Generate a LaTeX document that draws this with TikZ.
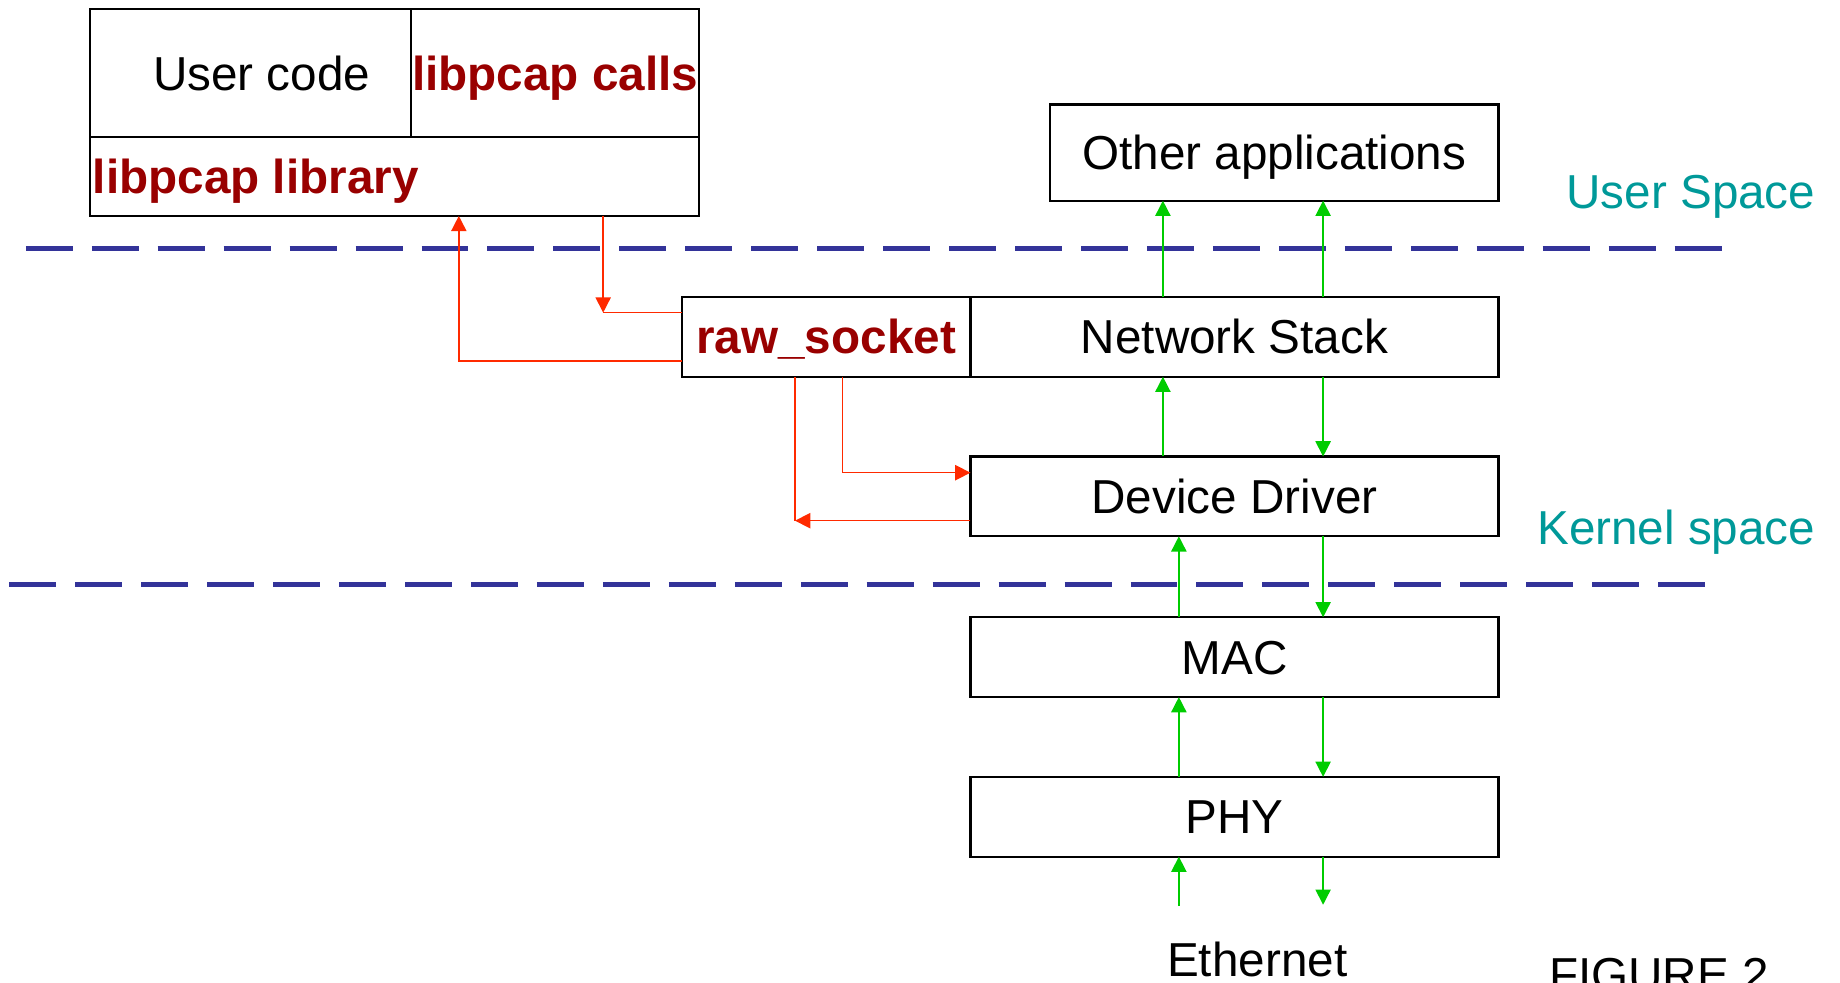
\documentclass[tikz,border=0pt]{standalone}
\usepackage{fontspec}
\setmainfont{Liberation Sans}
\usetikzlibrary{arrows.meta}
\definecolor{darkred}{HTML}{990000}
\definecolor{arrowred}{HTML}{FF2A00}
\definecolor{arrowgreen}{HTML}{00CC00}
\definecolor{dashblue}{HTML}{333399}
\definecolor{spaceteal}{HTML}{009999}
\tikzset{
  txt/.style={font=\fontsize{20.3pt}{24pt}\selectfont, text height=14.5pt, text depth=0pt, inner sep=0pt, outer sep=0pt},
  boxnode/.style={txt, draw=black, line width=0.9pt, minimum width=225pt, minimum height=34pt},
  redtext/.style={text=darkred, font=\fontsize{20.3pt}{24pt}\selectfont\bfseries},
  plaintext/.style={font=\fontsize{20.3pt}{24pt}\selectfont, inner sep=0pt, outer sep=0pt},
  spacetext/.style={plaintext, text=spaceteal},
  tipshape/.tip={Triangle[length=6.5pt,width=6.5pt]},
  gline/.style={draw=arrowgreen, line width=0.65pt},
  garrow/.style={gline, -{tipshape}},
  rline/.style={draw=arrowred, line width=0.65pt},
  rarrow/.style={rline, -{tipshape}},
  sepline/.style={draw=dashblue, line width=2.3pt, dash pattern=on 20pt off 8.1pt},
}
\begin{document}
\begin{tikzpicture}[x=0.5pt,y=-0.5pt]
\useasboundingbox (0,0) rectangle (1568,837);
\clip (0,0) rectangle (1568,837);

% separator lines
\coordinate (d1a) at (22,212);
\coordinate (d1b) at (1468,212);
\coordinate (d2a) at (8,498);
\coordinate (d2b) at (1454.5,498);
\draw[sepline] (d1a) -- (d1b);
\draw[sepline] (d2a) -- (d2b);

% user code block
\node[boxnode, minimum width=136.5pt, minimum height=54.5pt] (ucode) at (213.5,62.5) {};
\node[boxnode, minimum width=123pt, minimum height=54.5pt, redtext] (calls) at (473,62.5) {libpcap calls};
\node[boxnode, minimum width=259.5pt, minimum height=33.5pt] (libbox) at (336.5,150.5) {};
\node[txt] (ucodetxt) at (223,62.5) {User code};
\node[txt, redtext] (libtxt) at (218,150.5) {libpcap library};

% right stack
\node[boxnode, minimum width=191pt, minimum height=41pt] (other) at (1086,130) {Other applications};
\node[boxnode, minimum width=123pt, redtext] (raw) at (704,287) {raw\_socket};
\node[boxnode] (net) at (1052,287) {Network Stack};
\node[boxnode] (dd) at (1052,423) {Device Driver};
\node[boxnode] (mac) at (1052,560) {MAC};
\node[boxnode] (phy) at (1052,696) {PHY};

% labels
\node[spacetext, anchor=base east] (uspace) at (1547,178) {User Space};
\node[spacetext, anchor=base east] (kspace) at (1547,464.4) {Kernel space};
\node[plaintext, anchor=base] (eth) at (1071.4,832.5) {Ethernet};
\node[plaintext, anchor=base west] (fig) at (1320,844.5) {FIGURE 2};

% green connectors
\coordinate (gA) at (991,0);
\coordinate (gB) at (1127.5,0);
\coordinate (gC) at (1004.6,0);
\coordinate (e1) at (1004.6,772);
\coordinate (e2) at (1127.5,771);
\draw[garrow] (gA|-net.north) -- (gA|-other.south);
\draw[garrow] (gB|-net.north) -- (gB|-other.south);
\draw[garrow] (gA|-dd.north) -- (gA|-net.south);
\draw[garrow] (gB|-net.south) -- (gB|-dd.north);
\draw[garrow] (gC|-mac.north) -- (gC|-dd.south);
\draw[garrow] (gB|-dd.south) -- (gB|-mac.north);
\draw[garrow] (gC|-phy.north) -- (gC|-mac.south);
\draw[garrow] (gB|-mac.south) -- (gB|-phy.north);
\draw[garrow] (e1) -- (gC|-phy.south);
\draw[garrow] (gB|-phy.south) -- (e2);

% red connectors
\coordinate (r1) at (514,266.4);
\coordinate (r2) at (391,307.4);
\coordinate (r3) at (718,402.8);
\coordinate (r4) at (677.5,443.7);
\draw[rline] (r1) -- (r1-|raw.west);
\draw[rarrow] (r1|-libbox.south) -- (r1);
\draw[rarrow] (r2-|raw.west) -| (r2|-libbox.south);
\draw[rarrow] (r3|-raw.south) |- (r3-|dd.west);
\draw[rline] (r4) -- (r4|-raw.south);
\draw[rarrow] (r4-|dd.west) -- (r4);
\end{tikzpicture}
\end{document}
